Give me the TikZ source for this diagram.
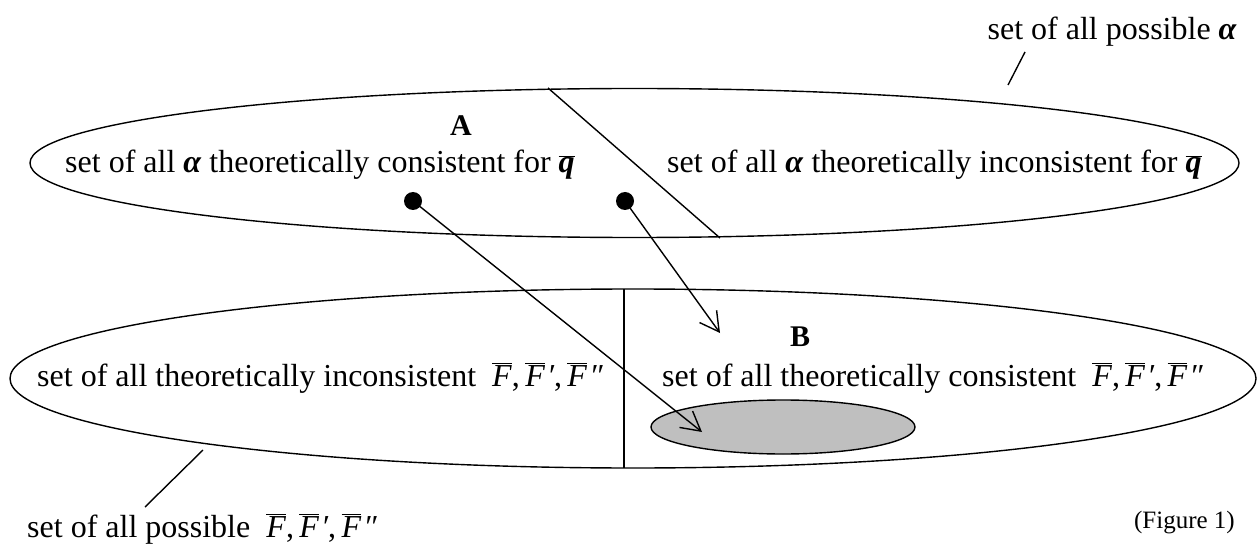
\documentclass[tikz,border=0pt]{standalone}
\usepackage{fontspec}
\setmainfont{Liberation Serif}
\usetikzlibrary{arrows.meta}
\newcommand{\myFb}{\ensuremath{\overline{\hbox{\textit{F}}}}}
\newcommand{\myFs}{\myFb,\,\myFb\kern2pt\textit{′},\,\myFb\kern2pt\textit{″}}
\newcommand{\myal}{\textbf{\textit{α}}}
\newcommand{\myqb}{\ensuremath{\overline{\hbox{\textbf{\textit{q}}}}}}
\begin{document}
\begin{tikzpicture}[x=1pt,y=-1pt,
  every node/.style={font=\fontsize{32}{38}\selectfont, inner sep=0pt},
  ln/.style={line width=1.4pt},
  arr/.style={line width=1.4pt,-{Straight Barb[length=19pt,width=21pt,line width=1.4pt]}},
  dot/.style={circle,fill=black,minimum size=18pt,inner sep=0pt}]
\useasboundingbox (0,0) rectangle (1257,545);
% ellipses
\draw[ln] (634.5,163) ellipse [x radius=604.5, y radius=74.5];
\draw[ln] (633,378.5) ellipse [x radius=623, y radius=89.5];
\draw[ln,fill=black!25] (783,427) ellipse [x radius=132, y radius=27];
% dividers
\coordinate (t1) at (548,88);
\coordinate (t2) at (720,238);
\draw[ln] (t1) -- (t2);
\coordinate (v1) at (624,289);
\coordinate (v2) at (624,468);
\draw[ln] (v1) -- (v2);
% pointer lines
\coordinate (pa1) at (1008,85);
\coordinate (pa2) at (1025,52);
\draw[ln] (pa1) -- (pa2);
\coordinate (pf1) at (145,507);
\coordinate (pf2) at (203,450);
\draw[ln] (pf1) -- (pf2);
% dots and arrows
\node[dot] (d1) at (413,201) {};
\node[dot] (d2) at (625,201) {};
\coordinate (e1) at (702,432);
\coordinate (e2) at (720,333);
\draw[arr] (d1.center) -- (e1);
\draw[arr] (d2.center) -- (e2);
% labels
\node[font=\fontsize{30}{36}\selectfont\bfseries,anchor=base] (A) at (461,136) {A};
\node[font=\fontsize{30}{36}\selectfont\bfseries,anchor=base] (B) at (800,346) {B};
\node[anchor=base west] (l1) at (65,173) {set of all \myal\ theoretically consistent for \myqb};
\node[anchor=base west] (l2) at (667,173) {set of all \myal\ theoretically inconsistent for \myqb};
\node[anchor=base west] (l3) at (37,386) {set of all theoretically inconsistent \ \myFs};
\node[anchor=base west] (l4) at (662,386) {set of all theoretically consistent \ \myFs};
\node[anchor=base east] (l5) at (1237,40) {set of all possible \myal};
\node[anchor=base west] (l6) at (27,537) {set of all possible \ \myFs};
\node[font=\fontsize{25}{30}\selectfont,anchor=base east] (fig) at (1235,528) {(Figure 1)};
\end{tikzpicture}
\end{document}
